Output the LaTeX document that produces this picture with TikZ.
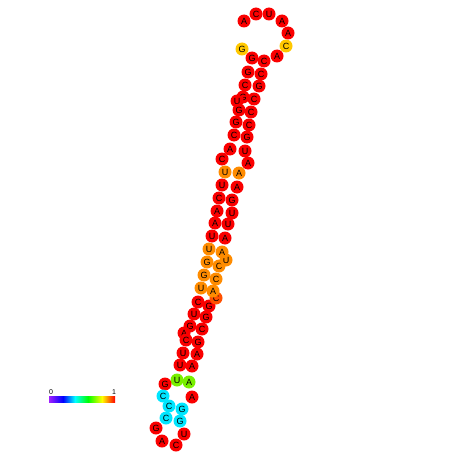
\documentclass[tikz,border=0pt]{standalone}
\usepackage{fontspec}
\setmainfont{Liberation Sans}
\usetikzlibrary{backgrounds}

\definecolor{ntred}{RGB}{250,0,0}
\definecolor{ntredor}{RGB}{255,80,0}
\definecolor{ntorange}{RGB}{255,140,0}
\definecolor{ntyellow}{RGB}{255,200,0}
\definecolor{ntgreen}{RGB}{120,240,0}
\definecolor{ntcyan}{RGB}{0,230,255}

\begin{document}
\begin{tikzpicture}[
    x=1pt, y=-1pt,
    nt/.style={circle, inner sep=0pt, minimum size=13pt, font=\fontsize{9}{9}\selectfont},
    ntr/.style={nt, fill=ntred},
    ntro/.style={nt, fill=ntredor},
    nto/.style={nt, fill=ntorange},
    nty/.style={nt, fill=ntyellow},
    ntg/.style={nt, fill=ntgreen},
    ntc/.style={nt, fill=ntcyan},
    bb/.style={draw=black!80, line width=0.6pt},
    bar/.style={font=\fontsize{7}{7}\selectfont, inner sep=0pt}
]
\fill[white] (0,0) rectangle (452,452);
\useasboundingbox (0,0) rectangle (452,452);

% left strand
\node (n1) [nty] at (242,49) {G};
\node (n2) [ntr] at (252,58) {G};
\node (n3) [ntr] at (248,72) {G};
\node (n4) [ntr] at (245,85) {C};
\node (n5) [ntr] at (243,97) {G};
\node (n6) [ntr] at (237,101) {U};
\node (n7) [ntr] at (239,110) {G};
\node (n8) [ntr] at (236,122) {G};
\node (n9) [ntr] at (234,135) {C};
\node (n10) [ntr] at (230,149) {A};
\node (n11) [ntr] at (222,159) {C};
\node (n12) [nto] at (225,172) {U};
\node (n13) [ntr] at (222,185) {U};
\node (n14) [ntr] at (219,198) {C};
\node (n15) [ntr] at (217,211) {A};
\node (n16) [ntr] at (215,223) {A};
\node (n17) [ntr] at (212,236) {U};
\node (n18) [nto] at (209,249) {U};
\node (n19) [nto] at (207,262) {G};
\node (n20) [nto] at (204,275) {G};
\node (n21) [nto] at (201,288) {U};
\node (n22) [ntr] at (198,302) {C};
\node (n23) [ntr] at (194,314) {U};
\node (n24) [ntr] at (190,326) {G};
\node (n25) [ntr] at (184,333) {A};
\node (n26) [ntr] at (186,340) {C};
\node (n27) [ntr] at (183,353) {U};
\node (n28) [ntr] at (180,365) {U};
\node (n29) [ntg] at (177,380) {U};

% bottom loop
\node (n30) [ntr] at (165,384) {G};
\node (n31) [ntc] at (163,396) {C};
\node (n32) [ntc] at (169,406) {C};
\node (n33) [ntc] at (166,418) {C};
\node (n34) [ntr] at (156,428) {G};
\node (n35) [ntr] at (162,441) {A};
\node (n36) [ntr] at (176,445) {C};
\node (n37) [ntr] at (184,434) {U};
\node (n38) [ntc] at (180,421) {G};
\node (n39) [ntc] at (182,409) {G};
\node (n40) [ntr] at (192,397) {A};

% right strand
\node (n41) [ntg] at (189,382) {A};
\node (n42) [ntr] at (192,366) {A};
\node (n43) [ntr] at (197,354) {A};
\node (n44) [ntr] at (198,342) {G};
\node (n45) [ntr] at (202,329) {C};
\node (n46) [ntr] at (206,317) {G};
\node (n47) [ntr] at (209,306) {G};
\node (n48) [ntro] at (216,298) {C};
\node (n49) [nto] at (213,291) {A};
\node (n50) [nto] at (216,279) {C};
\node (n51) [nto] at (219,266) {C};
\node (n52) [nto] at (226,260) {U};
\node (n53) [nto] at (222,252) {A};
\node (n54) [ntr] at (225,238) {A};
\node (n55) [ntr] at (228,224) {U};
\node (n56) [ntr] at (232,213) {U};
\node (n57) [ntr] at (232,200) {G};
\node (n58) [ntr] at (237,187) {A};
\node (n59) [nto] at (239,173) {A};
\node (n60) [ntr] at (248,163) {A};
\node (n61) [ntr] at (245,151) {U};
\node (n62) [ntr] at (247,137) {G};
\node (n63) [ntr] at (249,125) {C};
\node (n64) [ntr] at (251,112) {C};
\node (n65) [ntr] at (254,99) {C};
\node (n66) [ntr] at (259,86) {G};
\node (n67) [ntr] at (261,74) {C};
\node (n68) [ntr] at (264,61) {C};

% top tail
\node (n69) [ntr] at (277,56) {A};
\node (n70) [nty] at (286,46) {C};
\node (n71) [ntr] at (288,33) {A};
\node (n72) [ntr] at (282,21) {A};
\node (n73) [ntr] at (269,14) {U};
\node (n74) [ntr] at (256,14) {C};
\node (n75) [ntr] at (244,21) {A};

\begin{scope}[on background layer]
% backbone
\draw [bb] (n1) -- (n2) -- (n3) -- (n4) -- (n5) -- (n6) -- (n7) -- (n8) -- (n9) -- (n10)
    -- (n11) -- (n12) -- (n13) -- (n14) -- (n15) -- (n16) -- (n17) -- (n18) -- (n19) -- (n20)
    -- (n21) -- (n22) -- (n23) -- (n24) -- (n25) -- (n26) -- (n27) -- (n28) -- (n29) -- (n30)
    -- (n31) -- (n32) -- (n33) -- (n34) -- (n35) -- (n36) -- (n37) -- (n38) -- (n39) -- (n40)
    -- (n41) -- (n42) -- (n43) -- (n44) -- (n45) -- (n46) -- (n47) -- (n48) -- (n49) -- (n50)
    -- (n51) -- (n52) -- (n53) -- (n54) -- (n55) -- (n56) -- (n57) -- (n58) -- (n59) -- (n60)
    -- (n61) -- (n62) -- (n63) -- (n64) -- (n65) -- (n66) -- (n67) -- (n68) -- (n69) -- (n70)
    -- (n71) -- (n72) -- (n73) -- (n74) -- (n75);
% pairs
\draw [bb] (n2) -- (n68); \draw [bb] (n3) -- (n67); \draw [bb] (n4) -- (n66);
\draw [bb] (n5) -- (n65); \draw [bb] (n7) -- (n64); \draw [bb] (n8) -- (n63);
\draw [bb] (n9) -- (n62); \draw [bb] (n10) -- (n61); \draw [bb] (n12) -- (n59);
\draw [bb] (n13) -- (n58); \draw [bb] (n14) -- (n57); \draw [bb] (n15) -- (n56);
\draw [bb] (n16) -- (n55); \draw [bb] (n17) -- (n54); \draw [bb] (n18) -- (n53);
\draw [bb] (n19) -- (n51); \draw [bb] (n20) -- (n50); \draw [bb] (n21) -- (n49);
\draw [bb] (n22) -- (n47); \draw [bb] (n23) -- (n46); \draw [bb] (n24) -- (n45);
\draw [bb] (n26) -- (n44); \draw [bb] (n27) -- (n43); \draw [bb] (n28) -- (n42);
\draw [bb] (n29) -- (n41); \draw [bb] (n32) -- (n39); \draw [bb] (n33) -- (n38);
\end{scope}

% colour bar
\shade [left color={rgb,255:red,160;green,32;blue,255}, right color=blue] (49,396) rectangle (63,402);
\shade [left color=blue, right color=cyan] (63,396) rectangle (75,402);
\shade [left color=cyan, right color=green] (75,396) rectangle (88,402);
\shade [left color=green, right color=yellow] (88,396) rectangle (102,402);
\shade [left color=yellow, right color=red] (102,396) rectangle (115,402);
\node (lo) [bar] at (51,392) {0};
\node (hi) [bar] at (114,392) {1};

\end{tikzpicture}
\end{document}
